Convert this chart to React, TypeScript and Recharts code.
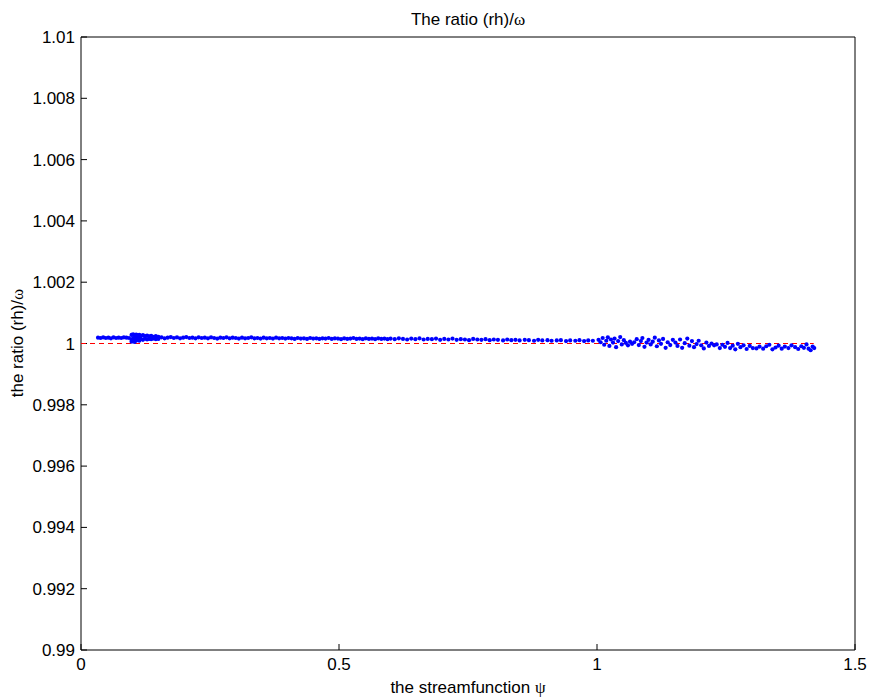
import React from "react";
import { ScatterChart, Scatter, XAxis, YAxis } from "recharts";

type Pt = [number, number];

const psiTicks = [0, 0.5, 1, 1.5];
const ratioTicks = [0.99, 0.992, 0.994, 0.996, 0.998, 1, 1.002, 1.004, 1.006, 1.008, 1.01];

// psi, ratio pairs
const nearWallPoints: Pt[] = [
  [0.033, 1.00019], [0.038, 1.00018], [0.043, 1.0002], [0.048, 1.00018],
  [0.053, 1.00019], [0.058, 1.00017], [0.063, 1.0002], [0.068, 1.00018],
  [0.073, 1.00019], [0.078, 1.00018], [0.083, 1.0002], [0.088, 1.00019],
  [0.093, 1.00018],
];

const burstPoints: Pt[] = [
  [0.098, 1.00028], [0.098, 1.00012], [0.098, 1.00006],
  [0.101, 1.0003], [0.101, 1.00018], [0.101, 1.00008],
  [0.104, 1.00027], [0.104, 1.00014], [0.104, 1.00005],
  [0.107, 1.00029], [0.107, 1.0002], [0.107, 1.0001],
  [0.11, 1.00026], [0.11, 1.00013],
  [0.113, 1.00028], [0.113, 1.00017], [0.113, 1.00009],
  [0.116, 1.00025], [0.116, 1.00015],
  [0.12, 1.00027], [0.12, 1.00012],
  [0.124, 1.00024], [0.124, 1.00016],
  [0.128, 1.00026], [0.128, 1.00013],
  [0.132, 1.00023], [0.132, 1.00015],
  [0.136, 1.00025], [0.136, 1.00014],
  [0.14, 1.00022], [0.14, 1.00016],
  [0.145, 1.00024], [0.145, 1.00014],
  [0.15, 1.00022], [0.15, 1.00015],
];

const corePoints: Pt[] = [
  [0.156, 1.0002], [0.162, 1.00017], [0.168, 1.00019], [0.174, 1.00021],
  [0.18, 1.00018], [0.186, 1.0002], [0.192, 1.00017], [0.198, 1.00019],
  [0.204, 1.00021], [0.21, 1.00018], [0.216, 1.00019], [0.222, 1.00017],
  [0.228, 1.0002], [0.234, 1.00018], [0.24, 1.00019], [0.246, 1.00017],
  [0.252, 1.0002], [0.258, 1.00018], [0.264, 1.00016], [0.27, 1.00019],
  [0.276, 1.00018], [0.282, 1.0002], [0.288, 1.00017], [0.294, 1.00019],
  [0.3, 1.00018], [0.306, 1.00016], [0.312, 1.00019], [0.318, 1.00017],
  [0.324, 1.00018], [0.33, 1.0002], [0.336, 1.00017], [0.342, 1.00018],
  [0.348, 1.00016], [0.354, 1.00019], [0.36, 1.00017], [0.366, 1.00018],
  [0.372, 1.00016], [0.378, 1.00019], [0.384, 1.00017], [0.39, 1.00018],
  [0.396, 1.00016], [0.402, 1.00018], [0.408, 1.00017], [0.414, 1.00015],
  [0.42, 1.00018], [0.426, 1.00016], [0.432, 1.00017], [0.438, 1.00015],
  [0.444, 1.00018], [0.45, 1.00016], [0.456, 1.00017], [0.462, 1.00015],
  [0.468, 1.00017], [0.474, 1.00016], [0.48, 1.00018], [0.486, 1.00015],
  [0.492, 1.00017], [0.498, 1.00016], [0.504, 1.00014], [0.51, 1.00017],
  [0.516, 1.00015], [0.522, 1.00016], [0.528, 1.00018], [0.534, 1.00015],
  [0.54, 1.00016], [0.546, 1.00014], [0.552, 1.00017], [0.558, 1.00015],
  [0.564, 1.00016], [0.57, 1.00014], [0.576, 1.00017], [0.582, 1.00015],
  [0.588, 1.00016], [0.594, 1.00014],
];

const outerPoints: Pt[] = [
  [0.6, 1.00016], [0.608, 1.00014], [0.616, 1.00017], [0.624, 1.00015],
  [0.632, 1.00013], [0.64, 1.00016], [0.648, 1.00014], [0.656, 1.00017],
  [0.664, 1.00013], [0.672, 1.00015], [0.68, 1.00014], [0.688, 1.00016],
  [0.696, 1.00012], [0.704, 1.00015], [0.712, 1.00013], [0.72, 1.00016],
  [0.728, 1.00012], [0.736, 1.00014], [0.744, 1.00013], [0.752, 1.00011],
  [0.76, 1.00015], [0.768, 1.00013], [0.776, 1.00012], [0.784, 1.00014],
  [0.792, 1.00011], [0.8, 1.00013], [0.808, 1.00012], [0.818, 1.0001],
  [0.826, 1.00013], [0.834, 1.00011], [0.842, 1.00012], [0.85, 1.0001],
  [0.86, 1.00012], [0.868, 1.00011], [0.878, 1.00009], [0.886, 1.00012],
  [0.894, 1.0001], [0.904, 1.00011], [0.912, 1.00009], [0.922, 1.0001],
  [0.93, 1.00011], [0.94, 1.00008], [0.948, 1.0001], [0.958, 1.00009],
  [0.966, 1.00011], [0.975, 1.00008], [0.983, 1.0001], [0.992, 1.00009],
];

const sparsePoints: Pt[] = [
  [1.003, 1.00012], [1.007, 1.00004], [1.011, 1.00018], [1.014, 0.99996],
  [1.018, 1.00009], [1.021, 1.0002], [1.024, 0.99992], [1.027, 1.00013],
  [1.031, 1.00003], [1.034, 1.00016], [1.037, 0.99988], [1.041, 1.00008],
  [1.045, 1.00021], [1.048, 0.99997], [1.052, 1.00011], [1.056, 1.00002],
  [1.06, 0.99994], [1.064, 1.00006], [1.068, 0.99999], [1.072, 1.00004],
  [1.077, 1.00014], [1.081, 0.99995], [1.085, 1.00008], [1.088, 1.00018],
  [1.092, 0.99989], [1.096, 1.00003], [1.1, 1.00012], [1.104, 0.99997],
  [1.108, 1.00006], [1.112, 1.00019], [1.116, 0.99991], [1.12, 1.0001],
  [1.124, 0.99999], [1.128, 1.00015], [1.133, 0.99986], [1.137, 1.00004],
  [1.142, 0.99995], [1.147, 1.00012], [1.152, 1.00003], [1.156, 0.99992],
  [1.161, 1.00013], [1.165, 0.99986], [1.17, 1.00001], [1.175, 1.00016],
  [1.179, 0.99993], [1.184, 1.00008], [1.188, 0.99988], [1.193, 0.99998],
  [1.197, 1.00009], [1.202, 0.99994], [1.207, 0.99984], [1.212, 1.00003],
  [1.217, 0.99992], [1.222, 1.0], [1.227, 0.99994], [1.232, 0.99997],
  [1.238, 0.99985], [1.243, 0.99996], [1.248, 0.99989], [1.253, 1.00002],
  [1.258, 0.99985], [1.263, 0.99993], [1.268, 0.99981], [1.273, 0.99999],
  [1.278, 0.99988], [1.284, 0.99994], [1.29, 0.99982], [1.296, 0.99992],
  [1.302, 0.99985], [1.309, 0.99984], [1.315, 0.9999], [1.322, 0.99983],
  [1.328, 0.99991], [1.334, 0.99996], [1.34, 0.99981], [1.346, 0.99987],
  [1.352, 0.99993], [1.358, 0.99983], [1.364, 0.9999], [1.371, 0.99985],
  [1.377, 0.99994], [1.384, 0.99988], [1.39, 0.99982], [1.396, 0.99991],
  [1.401, 0.99986], [1.406, 0.99997], [1.41, 0.99983], [1.414, 0.99978],
  [1.418, 0.9999], [1.421, 0.99985],
];

// dashed ratio = 1 reference, drawn over the psi range of the data
const unityPsi = [0, 1.42];
const unityRatio = [1, 1];

const allPoints = [
  ...nearWallPoints,
  ...burstPoints,
  ...corePoints,
  ...outerPoints,
  ...sparsePoints,
].map(([psi, ratio]) => ({ psi, ratio }));

const unityLine = unityPsi.map((psi, i) => ({ psi, ratio: unityRatio[i] }));

const tickStyle = { fontFamily: "Liberation Sans, Arial, sans-serif", fontSize: 17, fill: "#000" };
const sym = { fontFamily: "Liberation Serif, Times New Roman, serif" };

const Dot = (props: any) => (
  <circle cx={props.cx} cy={props.cy} r={2.1} fill="#0000ff" />
);

const NoMark = () => <g />;

export default function App() {
  return (
    <div
      style={{
        position: "absolute",
        left: 0,
        top: 0,
        width: 872,
        height: 700,
        background: "#fff",
        fontFamily: "Liberation Sans, Arial, sans-serif",
        fontSize: 17,
        lineHeight: "20px",
        color: "#000",
      }}
    >
      <ScatterChart
        width={872}
        height={700}
        margin={{ top: 0, right: 0, bottom: 0, left: 0 }}
      >
        <XAxis
          xAxisId="bottom"
          dataKey="psi"
          type="number"
          domain={[0, 1.5]}
          ticks={psiTicks}
          interval={0}
          allowDataOverflow
          orientation="bottom"
          height={50}
          tickSize={-6}
          tickMargin={14}
          tick={tickStyle}
          stroke="#000"
        />
        <XAxis
          xAxisId="top"
          type="number"
          domain={[0, 1.5]}
          ticks={psiTicks}
          interval={0}
          allowDataOverflow
          orientation="top"
          height={37}
          tickSize={-6}
          tick={false}
          stroke="#000"
        />
        <YAxis
          yAxisId="left"
          dataKey="ratio"
          type="number"
          domain={[0.99, 1.01]}
          ticks={ratioTicks}
          interval={0}
          allowDataOverflow
          orientation="left"
          width={81}
          tickSize={-6}
          tickMargin={12}
          tick={tickStyle}
          stroke="#000"
        />
        <YAxis
          yAxisId="right"
          type="number"
          domain={[0.99, 1.01]}
          ticks={ratioTicks}
          interval={0}
          allowDataOverflow
          orientation="right"
          width={17}
          tickSize={-6}
          tick={false}
          stroke="#000"
        />
        <Scatter
          xAxisId="bottom"
          yAxisId="left"
          data={unityLine}
          line={{ stroke: "#ff0000", strokeWidth: 1, strokeDasharray: "5 4" }}
          shape={NoMark}
          isAnimationActive={false}
        />
        <Scatter
          xAxisId="bottom"
          yAxisId="left"
          data={allPoints}
          shape={Dot}
          isAnimationActive={false}
        />
      </ScatterChart>

      <div style={{ position: "absolute", left: 0, width: 936, top: 10, textAlign: "center" }}>
        The ratio (rh)/<span style={sym}>ω</span>
      </div>
      <div style={{ position: "absolute", left: 0, width: 936, top: 678, textAlign: "center" }}>
        the streamfunction <span style={sym}>ψ</span>
      </div>
      <div
        style={{
          position: "absolute",
          left: 18,
          top: 343,
          transform: "translate(-50%, -50%) rotate(-90deg)",
          whiteSpace: "nowrap",
        }}
      >
        the ratio (rh)/<span style={sym}>ω</span>
      </div>
    </div>
  );
}
